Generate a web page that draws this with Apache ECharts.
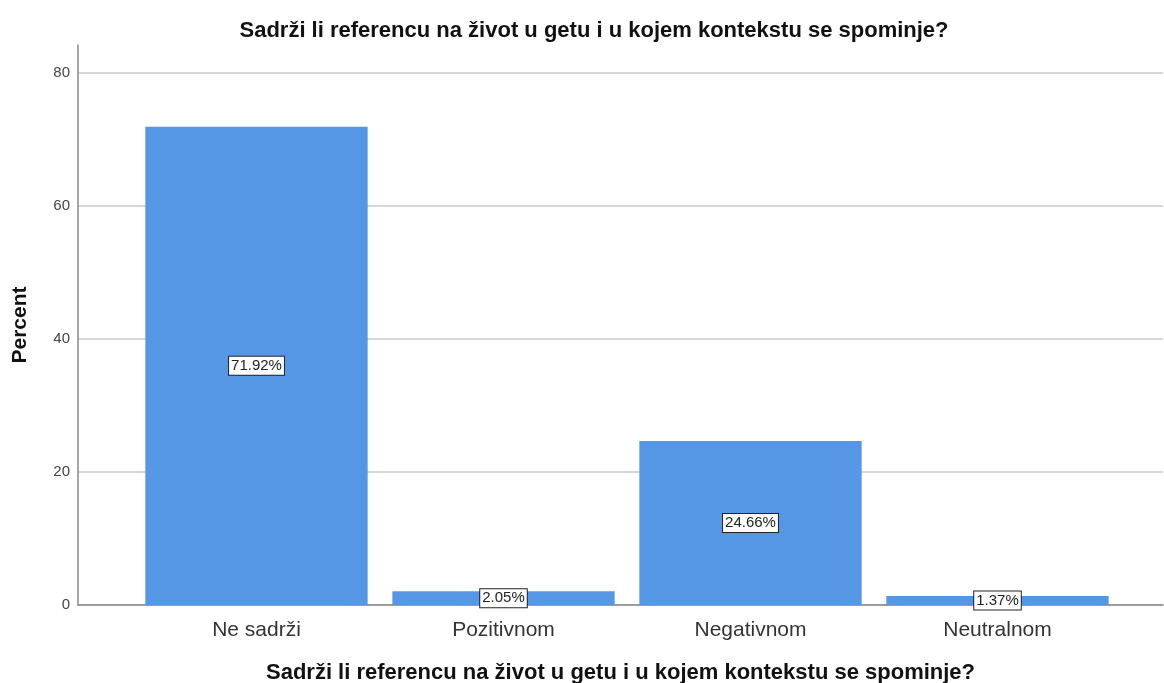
<!DOCTYPE html>
<html>
<head>
<meta charset="utf-8">
<script src="https://cdn.jsdelivr.net/npm/echarts@6/dist/echarts.min.js"></script>
<style>
  html, body { margin: 0; padding: 0; background: #fff; }
  #chart { width: 1164px; height: 683px; }
</style>
</head>
<body>
<div id="chart"></div>
<script>
const categories = ['Ne sadrži', 'Pozitivnom', 'Negativnom', 'Neutralnom'];
const percents = [71.92, 2.05, 24.66, 1.37];
const titleText = 'Sadrži li referencu na život u getu i u kojem kontekstu se spominje?';

const font = '"Liberation Sans", Arial, sans-serif';
const yMax = 84.2;

let myChart = echarts.init(document.getElementById('chart'));
let option = {
  backgroundColor: '#fff',
  textStyle: { fontFamily: font },
  title: {
    text: titleText,
    left: 589,
    top: 15,
    textAlign: 'center',
    textStyle: { fontFamily: font, fontSize: 22, fontWeight: 'bold', color: '#111' }
  },
  grid: [
    // frame grid: axis lines + gridlines over the full width
    { left: 78, right: 1, top: 45, bottom: 78, outerBoundsMode: 'none' },
    // bar grid: the categories sit inside with padding
    { left: 133, right: 43, top: 45, bottom: 78, outerBoundsMode: 'none' }
  ],
  xAxis: [
    {
      gridIndex: 0,
      type: 'value',
      min: 0, max: 1,
      axisLine: { show: true, lineStyle: { color: '#888', width: 1.5 } },
      axisTick: { show: false },
      axisLabel: { show: false },
      splitLine: { show: false },
      name: titleText,
      nameLocation: 'middle',
      nameGap: 57,
      nameTextStyle: { fontFamily: font, fontSize: 22, fontWeight: 'bold', color: '#111' }
    },
    {
      gridIndex: 1,
      type: 'category',
      data: categories,
      axisLine: { show: false },
      axisTick: { show: false },
      axisLabel: { fontFamily: font, fontSize: 21, color: '#333', margin: 15 }
    }
  ],
  yAxis: [
    {
      gridIndex: 0,
      type: 'value',
      min: 0, max: yMax, interval: 20,
      axisLine: { show: true, lineStyle: { color: '#888', width: 1.5 } },
      axisTick: { show: false },
      axisLabel: { fontFamily: font, fontSize: 15, color: '#444', margin: 8, showMaxLabel: false },
      splitLine: { show: true, showMaxLine: false, lineStyle: { color: '#c8c8c8', width: 1.5 } },
      name: 'Percent',
      nameLocation: 'middle',
      nameGap: 47,
      nameTextStyle: { fontFamily: font, fontSize: 21, fontWeight: 'bold', color: '#111' }
    },
    {
      gridIndex: 1,
      type: 'value',
      min: 0, max: yMax,
      show: false
    }
  ],
  series: [
    {
      type: 'bar',
      xAxisIndex: 1,
      yAxisIndex: 1,
      data: percents,
      barCategoryGap: '10%',
      itemStyle: { color: '#5596E5' },
      label: {
        show: true,
        position: 'inside',
        formatter: p => p.value.toFixed(2) + '%',
        fontFamily: font,
        fontSize: 15,
        color: '#222',
        backgroundColor: '#fff',
        borderColor: '#222',
        borderWidth: 1,
        padding: [2, 2, 1, 2]
      }
    }
  ]
};
option && myChart.setOption(option);
</script>
</body>
</html>
